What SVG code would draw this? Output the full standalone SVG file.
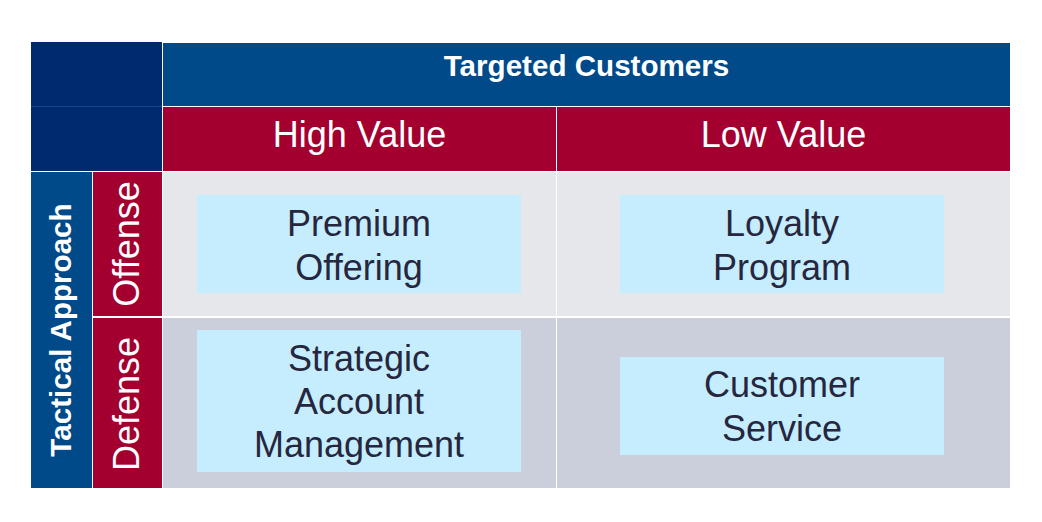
<svg xmlns="http://www.w3.org/2000/svg" width="1042" height="522" viewBox="0 0 1042 522">
  <style>
    .navy { fill: #002a70; }
    .blue { fill: #004a8a; }
    .red { fill: #a3002f; }
    .off { fill: #e5e7eb; }
    .def { fill: #cbcfdb; }
    .box { fill: #c5edfd; }
    .hdr { font-family: "Liberation Sans", Arial, sans-serif; fill: #ffffff; text-anchor: middle; }
    .bold { font-weight: bold; font-size: 29.6px; }
    .reg { font-size: 36px; }
    .lbl { font-family: "Liberation Sans", Arial, sans-serif; font-size: 36px; fill: #26263e; text-anchor: middle; }
  </style>
  <rect width="1042" height="522" fill="#ffffff"/>
  <g id="corner">
    <rect class="navy" x="31" y="42" width="131" height="64"/>
    <rect class="navy" x="31" y="107" width="131" height="64"/>
    <rect x="31" y="106" width="131" height="1" fill="#1d4485"/>
  </g>
  <g id="targeted-customers">
    <rect class="blue" x="163" y="43" width="847" height="63"/>
    <text class="hdr bold" x="586.5" y="76">Targeted Customers</text>
  </g>
  <g id="high-value">
    <rect class="red" x="163" y="107" width="393" height="64"/>
    <text class="hdr reg" x="359.5" y="147">High Value</text>
  </g>
  <g id="low-value">
    <rect class="red" x="557" y="107" width="453" height="64"/>
    <text class="hdr reg" x="783.5" y="147">Low Value</text>
  </g>
  <g id="tactical-approach">
    <rect class="blue" x="31" y="172" width="61" height="316"/>
    <text class="hdr bold" transform="translate(71 330) rotate(-90)">Tactical Approach</text>
  </g>
  <g id="offense">
    <rect class="red" x="93" y="172" width="69" height="144"/>
    <text class="hdr reg" transform="translate(138.5 244) rotate(-90)">Offense</text>
  </g>
  <g id="defense">
    <rect class="red" x="93" y="318" width="69" height="170"/>
    <text class="hdr reg" transform="translate(138.5 404) rotate(-90)">Defense</text>
  </g>
  <g id="cells">
    <rect class="off" x="163" y="172" width="393" height="144"/>
    <rect class="off" x="557" y="172" width="453" height="144"/>
    <rect class="def" x="163" y="318" width="393" height="170"/>
    <rect class="def" x="557" y="318" width="453" height="170"/>
  </g>
  <g id="premium-offering">
    <rect class="box" x="197" y="195" width="324" height="98"/>
    <text class="lbl" x="359" y="236">Premium</text>
    <text class="lbl" x="359" y="280">Offering</text>
  </g>
  <g id="loyalty-program">
    <rect class="box" x="620" y="195" width="324" height="98"/>
    <text class="lbl" x="782" y="236">Loyalty</text>
    <text class="lbl" x="782" y="280">Program</text>
  </g>
  <g id="strategic-account-management">
    <rect class="box" x="197" y="330" width="324" height="142"/>
    <text class="lbl" x="359" y="371">Strategic</text>
    <text class="lbl" x="359" y="414">Account</text>
    <text class="lbl" x="359" y="457">Management</text>
  </g>
  <g id="customer-service">
    <rect class="box" x="620" y="357" width="324" height="98"/>
    <text class="lbl" x="782" y="397">Customer</text>
    <text class="lbl" x="782" y="441">Service</text>
  </g>
  <g id="connectors"></g>
</svg>
